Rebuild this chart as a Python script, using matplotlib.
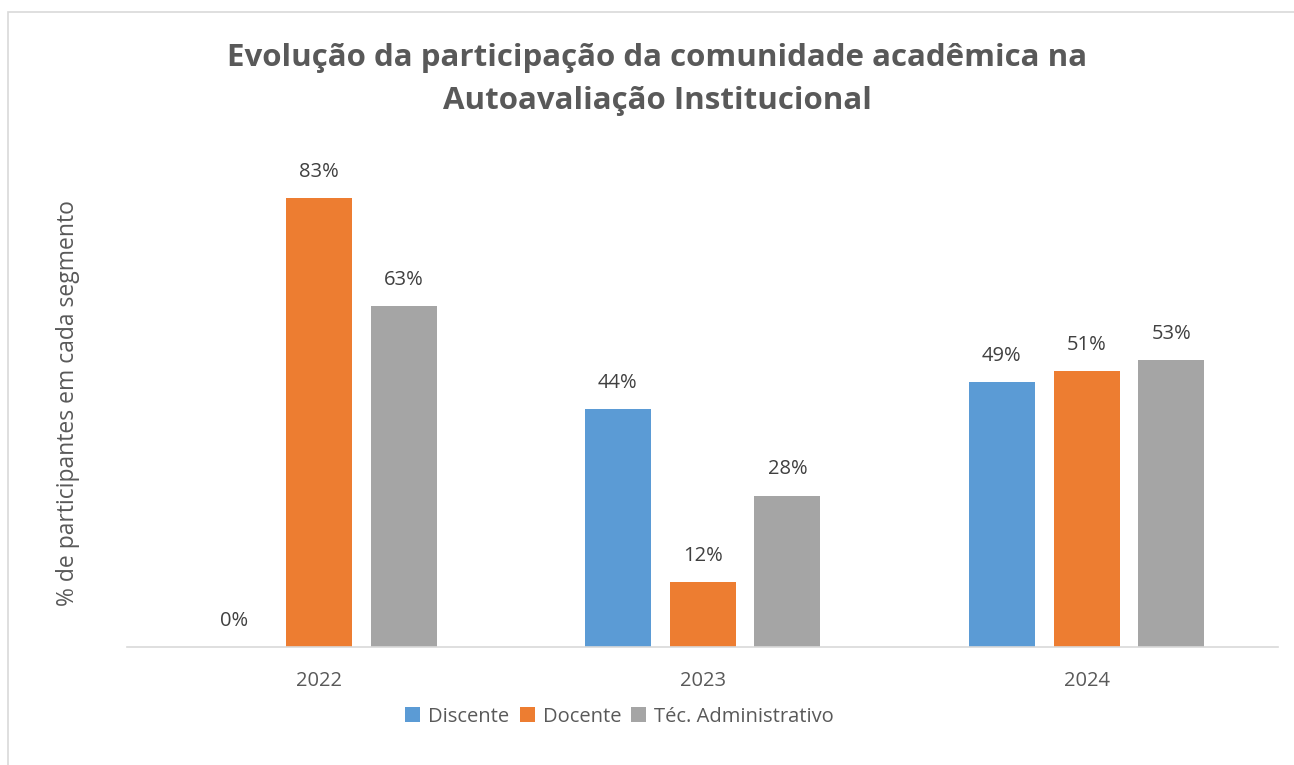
import numpy as np
import matplotlib.pyplot as plt
from matplotlib.patches import Rectangle

years = ['2022', '2023', '2024']
discente = [0, 44, 49]
docente = [83, 12, 51]
tecnico = [63, 28, 53]
series_names = ['Discente', 'Docente', 'Téc. Administrativo']
colors = ['#5B9BD5', '#ED7D31', '#A5A5A5']

plt.rcParams['font.family'] = ['Open Sans', 'DejaVu Sans']

fig = plt.figure(figsize=(12.94, 7.65), dpi=100)
ax = fig.add_axes([0.098, 0.154, 0.89, 0.637])

# outer chart border
fig.patches.append(Rectangle((8 / 1294, -0.01), 1.1, 1 - 12 / 765 + 0.01,
                             transform=fig.transFigure, fill=False,
                             edgecolor='#D9D9D9', linewidth=1.2))

x = np.arange(len(years))
w = 0.172
step = 0.221
for i, (vals, name, c) in enumerate(zip([discente, docente, tecnico], series_names, colors)):
    pos = x + (i - 1) * step
    ax.bar(pos, vals, width=w, color=c, label=name)
    for xp, v in zip(pos, vals):
        ax.text(xp, v + 3.0, f'{v}%', ha='center', va='bottom',
                fontsize=14.5, color='#404040')

ax.set_xlim(-0.5, 2.5)
ax.set_ylim(0, 90)
ax.set_xticks(x)
ax.set_xticklabels(years, fontsize=14.5, color='#595959')
ax.tick_params(axis='x', length=0, pad=17)
ax.set_yticks([])
for s in ['top', 'right', 'left']:
    ax.spines[s].set_visible(False)
ax.spines['bottom'].set_color('#D9D9D9')
ax.spines['bottom'].set_linewidth(1.2)

ax.set_ylabel('% de participantes em cada segmento', fontsize=16.5,
              color='#595959', labelpad=34)

fig.text(0.508, 0.896, 'Evolução da participação da comunidade acadêmica na\nAutoavaliação Institucional',
         ha='center', va='center', fontsize=22.5, fontweight='bold',
         color='#595959', linespacing=1.55)

ax.legend(loc='upper center', bbox_to_anchor=(0.428, -0.085), ncol=3, frameon=False,
          fontsize=14.5, handlelength=0.75, handleheight=0.75, handletextpad=0.4,
          columnspacing=0.5, labelcolor='#595959')

fig.savefig('out.png', dpi=100, facecolor='white')
